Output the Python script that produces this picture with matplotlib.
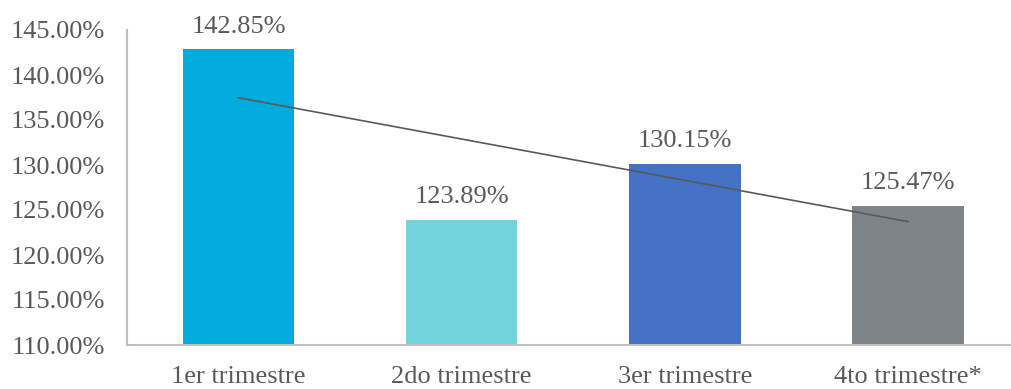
import matplotlib
matplotlib.use("Agg")
import matplotlib.pyplot as plt
import numpy as np

categories = ["1er trimestre", "2do trimestre", "3er trimestre", "4to trimestre*"]
values = [142.85, 123.89, 130.15, 125.47]
bar_colors = ["#00ACDC", "#72D3DC", "#4472C4", "#7E8488"]
yticks = [110, 115, 120, 125, 130, 135, 140, 145]

plt.rcParams['font.family'] = ['Liberation Serif', 'DejaVu Serif']

fig = plt.figure(figsize=(10.11, 3.89), dpi=100)
ax = fig.add_axes([127/1011, 1 - 345/389, (1019.5 - 127)/1011, (345 - 30)/389])

x = np.arange(len(categories))
ax.bar(x, values, width=0.5, color=bar_colors, zorder=2)

# linear trendline
coef = np.polyfit(x, values, 1)
ax.plot(x[[0, -1]], np.polyval(coef, x[[0, -1]]), color="#595959", lw=1.2, zorder=3)

for xi, v in zip(x, values):
    ax.annotate(f"{v:.2f}%", (xi, v), xytext=(0, 12), textcoords="offset points",
                ha="center", va="baseline", fontsize=19, color="#595959")

ax.set_xlim(-0.5, 3.5)
ax.set_ylim(110, 145)
ax.set_yticks(yticks)
ax.set_yticklabels([f"{t:.2f}%" for t in yticks])
ax.set_xticks(x)
ax.set_xticklabels(categories)
ax.tick_params(axis="both", length=0, labelsize=19, colors="#595959")
ax.tick_params(axis="x", pad=15)
ax.tick_params(axis="y", pad=16)
for s in ["top", "right"]:
    ax.spines[s].set_visible(False)
for s in ["left", "bottom"]:
    ax.spines[s].set_color("#BFBFBF")
    ax.spines[s].set_linewidth(1.5)

fig.savefig("out.png", dpi=100)
